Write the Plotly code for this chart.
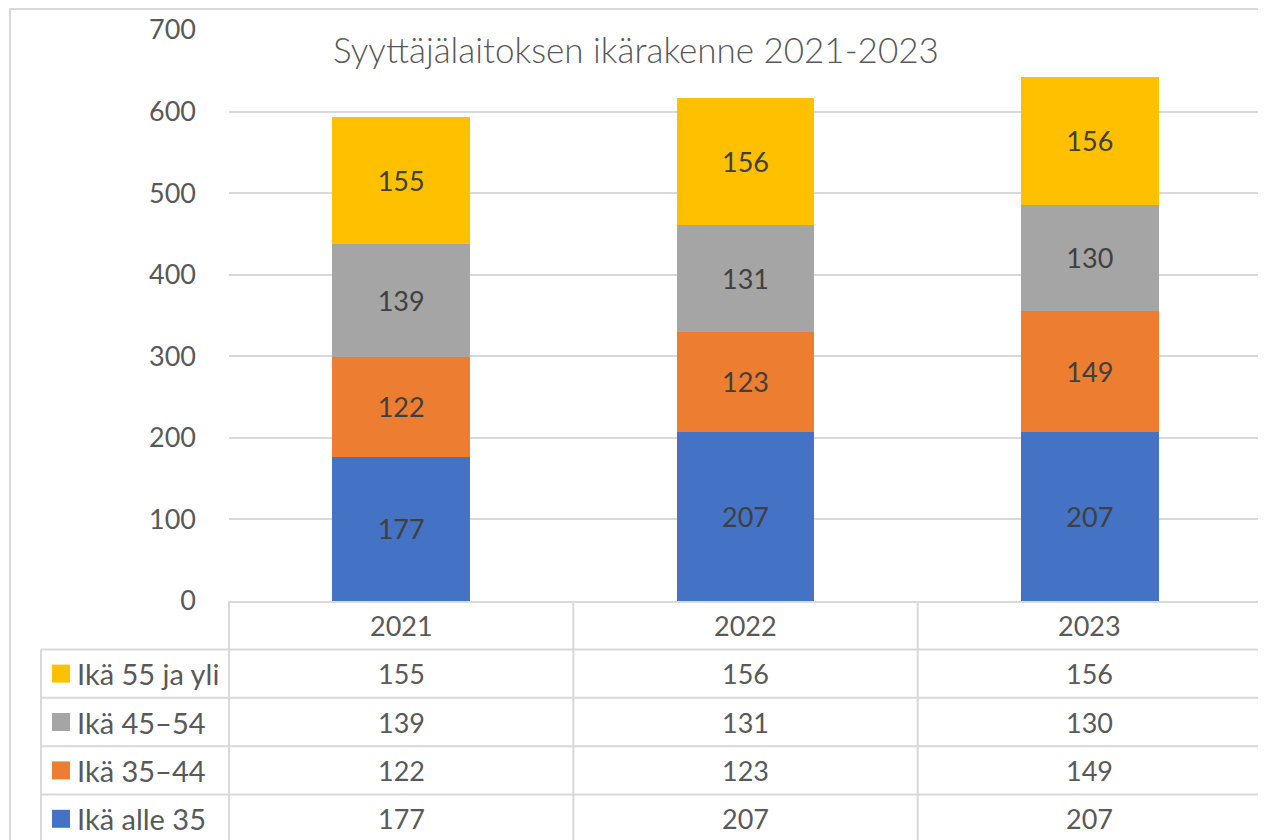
import plotly.graph_objects as go

years = ["2021", "2022", "2023"]
series_names = ["Ikä alle 35", "Ikä 35–44", "Ikä 45–54", "Ikä 55 ja yli"]
alle35 = [177, 207, 207]
ika35_44 = [122, 123, 149]
ika45_54 = [139, 131, 130]
ika55 = [155, 156, 156]
series_values = [alle35, ika35_44, ika45_54, ika55]
colors = ["#4472C4", "#ED7D31", "#A5A5A5", "#FFC000"]
title_text = "Syyttäjälaitoksen ikärakenne 2021-2023"
y_ticks = [0, 100, 200, 300, 400, 500, 600, 700]

# the page body has an 8px margin; the figure fills the rest of the window
OFF = 8
W, H = 1266 - OFF, 840 - OFF
FONT = "Lato"
TXT = "#595959"
GRID = "#D9D9D9"


def px(x):
    return (x - OFF) / W


def py(y):
    return 1 - (y - OFF) / H


plot_l, plot_r, plot_t, plot_b = 229, 1262, 30, 601
row_h = 48.4
table_left = 41
NUM_SIZE = 27

fig = go.Figure()
for name, vals, col in zip(series_names, series_values, colors):
    fig.add_trace(go.Bar(
        x=years, y=vals, name=name, marker=dict(color=col, line=dict(width=0)),
        text=[str(v) for v in vals], textposition="inside", insidetextanchor="middle",
        textfont=dict(family=FONT, size=NUM_SIZE, color="#404040"), textangle=0,
        cliponaxis=False,
    ))

shapes = []
annotations = []
line_style = dict(color=GRID, width=2)
# outer chart border (top and left)
shapes.append(dict(type="line", xref="paper", yref="paper", x0=px(9), x1=px(plot_r),
                   y0=py(9), y1=py(9), line=line_style))
shapes.append(dict(type="line", xref="paper", yref="paper", x0=px(10), x1=px(10),
                   y0=py(9), y1=py(H + 40), line=line_style))

# table horizontal lines
for i in range(1, 6):
    yy = plot_b + row_h * i
    shapes.append(dict(type="line", xref="paper", yref="paper", x0=px(table_left), x1=px(plot_r),
                       y0=py(yy), y1=py(yy), line=line_style))
# vertical table lines
shapes.append(dict(type="line", xref="paper", yref="paper", x0=px(table_left), x1=px(table_left),
                   y0=py(plot_b + row_h), y1=py(H + 40), line=line_style))
shapes.append(dict(type="line", xref="paper", yref="paper", x0=px(plot_l), x1=px(plot_l),
                   y0=py(plot_b), y1=py(H + 40), line=line_style))
for xb in [0.5, 1.5]:
    shapes.append(dict(type="line", xref="x", yref="paper", x0=xb, x1=xb,
                       y0=py(plot_b), y1=py(H + 40), line=line_style))
shapes.append(dict(type="line", xref="paper", yref="paper", x0=px(plot_r), x1=px(plot_r),
                   y0=py(9), y1=py(H + 40), line=line_style))

# header row of the data table
for i, yr in enumerate(years):
    annotations.append(dict(x=i, y=py(plot_b + row_h * 0.5), xref="x", yref="paper", text=yr,
                            showarrow=False, font=dict(family=FONT, size=NUM_SIZE, color=TXT),
                            xanchor="center", yanchor="middle"))
# table rows (top row = last series)
order = list(range(len(series_names)))[::-1]
for r, si in enumerate(order):
    cy = plot_b + row_h * (r + 1.5)
    shapes.append(dict(type="rect", xref="paper", yref="paper", x0=px(52), x1=px(70),
                       y0=py(cy - 9), y1=py(cy + 9), fillcolor=colors[si], line=dict(width=0)))
    annotations.append(dict(x=px(75), y=py(cy), xref="paper", yref="paper", text=series_names[si],
                            showarrow=False, font=dict(family=FONT, size=29, color=TXT),
                            xanchor="left", yanchor="middle"))
    for i, v in enumerate(series_values[si]):
        annotations.append(dict(x=i, y=py(cy), xref="x", yref="paper", text=str(v),
                                showarrow=False, font=dict(family=FONT, size=NUM_SIZE, color=TXT),
                                xanchor="center", yanchor="middle"))

# title
annotations.append(dict(x=px(636), y=py(49), xref="paper", yref="paper", text=title_text,
                        showarrow=False, font=dict(family=FONT, size=35, color=TXT, weight=300),
                        xanchor="center", yanchor="middle"))

fig.update_layout(
    template="none",
    width=W, height=H, margin=dict(l=0, r=0, t=0, b=0, pad=0, autoexpand=False),
    barmode="stack", bargap=0.6,
    paper_bgcolor="white", plot_bgcolor="white",
    showlegend=False,
    xaxis=dict(type="category", categoryorder="array", categoryarray=years,
               domain=[px(plot_l), px(plot_r)], range=[-0.5, 2.5], showticklabels=False,
               showgrid=False, showline=True, linecolor=GRID, linewidth=2, ticks="", zeroline=False,
               fixedrange=True, automargin=False),
    yaxis=dict(domain=[py(plot_b), py(plot_t)], range=[0, 700], tickvals=y_ticks,
               showgrid=True, gridcolor=GRID, gridwidth=2, zeroline=False, showline=False,
               ticks="", tickfont=dict(family=FONT, size=NUM_SIZE, color=TXT), ticklabelstandoff=32,
               fixedrange=True, automargin=False),
    shapes=shapes, annotations=annotations,
)

fig.write_html("out.html")
